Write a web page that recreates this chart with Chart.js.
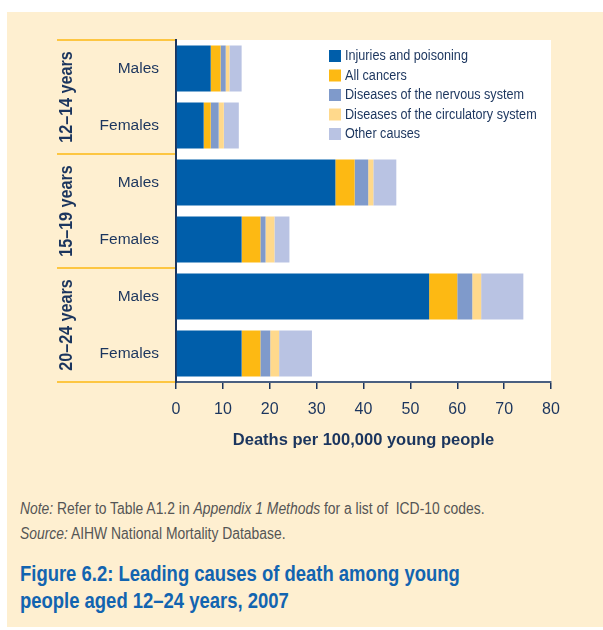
<!DOCTYPE html>
<html>
<head>
<meta charset="utf-8">
<script src="https://cdn.jsdelivr.net/npm/chart.js@4"></script>
<style>
  body { margin: 0; background: #fff; }
  #box { position: absolute; left: 7px; top: 12px; width: 596px; height: 615px; background: #feefd0; }
  #wrap { position: absolute; left: 0; top: 0; }
  .note { position: absolute; left: 20px; font-family: "Liberation Sans", sans-serif; font-size: 16px; color: #555; white-space: nowrap; transform: scaleX(0.868); transform-origin: left center; }
  .title { position: absolute; left: 20px; top: 560px; font-family: "Liberation Sans", sans-serif; font-weight: bold; font-size: 22.5px; line-height: 27px; color: #1264b0; white-space: nowrap; transform: scaleX(0.82); transform-origin: left top; }
</style>
</head>
<body>
<div id="box"></div>
<div id="wrap"><canvas id="myChart" width="603" height="470"></canvas></div>
<div class="note" style="top:500px"><i>Note:</i> Refer to Table A1.2 in <i>Appendix 1 Methods</i> for a list of&nbsp; ICD-10 codes.</div>
<div class="note" style="top:525px"><i>Source:</i> AIHW National Mortality Database.</div>
<div class="title">Figure 6.2: Leading causes of death among young<br>people aged 12–24 years, 2007</div>
<script>
// rows, top to bottom
const categories = ['Males', 'Females', 'Males', 'Females', 'Males', 'Females'];
const ageGroups = ['12–14 years', '15–19 years', '20–24 years'];

// deaths per 100,000 young people
const injuries = [7.4, 5.9, 34.0, 14.0, 54.0, 14.0];
const cancers = [2.1, 1.5, 4.1, 4.0, 6.0, 4.0];
const nervous = [1.1, 1.7, 2.9, 1.1, 3.2, 2.1];
const circulatory = [0.8, 1.1, 1.1, 1.9, 1.9, 1.9];
const otherCauses = [2.6, 3.2, 4.9, 3.2, 9.0, 7.0];

const xTicks = [0, 10, 20, 30, 40, 50, 60, 70, 80];

const navy = '#1b355e';
const font = '"Liberation Sans", sans-serif';

// white plot area + orange separators + rotated age groups + legend
const decorations = {
    id: 'decorations',
    beforeDraw(chart) {
        const a = chart.chartArea;
        const ctx = chart.ctx;
        ctx.save();
        ctx.fillStyle = '#fff';
        ctx.fillRect(a.left, a.top, a.right - a.left, a.bottom - a.top);
        ctx.restore();
    },
    afterDraw(chart) {
        const ctx = chart.ctx;
        const a = chart.chartArea;
        const y = chart.scales.y;
        ctx.save();
        // separators between age groups
        ctx.strokeStyle = '#fdb913';
        ctx.lineWidth = 1.5;
        const lines = [a.top];
        for (let g = 1; g < ageGroups.length; g++) {
            lines.push((y.getPixelForValue(g * 2 - 1) + y.getPixelForValue(g * 2)) / 2);
        }
        lines.push(a.bottom);
        lines.forEach(py => {
            ctx.beginPath();
            ctx.moveTo(57, py);
            ctx.lineTo(a.left - 1, py);
            ctx.stroke();
        });
        // age group labels (narrowed, the original face is condensed)
        ctx.fillStyle = navy;
        ctx.font = 'bold 19px ' + font;
        ctx.textAlign = 'center';
        ctx.textBaseline = 'middle';
        ageGroups.forEach((g, i) => {
            const cy = (y.getPixelForValue(i * 2) + y.getPixelForValue(i * 2 + 1)) / 2;
            ctx.save();
            ctx.translate(67, cy);
            ctx.rotate(-Math.PI / 2);
            ctx.scale(0.85, 1);
            ctx.fillText(g, 0, 0);
            ctx.restore();
        });
        // legend
        ctx.font = '15.5px ' + font;
        ctx.textAlign = 'left';
        chart.data.datasets.forEach((ds, i) => {
            const ly = 56 + i * 19.5;
            ctx.fillStyle = ds.backgroundColor;
            ctx.fillRect(329, ly - 6, 12, 12);
            ctx.fillStyle = navy;
            ctx.save();
            ctx.translate(345, ly);
            ctx.scale(0.815, 1);
            ctx.fillText(ds.label, 0, 0);
            ctx.restore();
        });
        ctx.restore();
    }
};

const ctx = document.getElementById('myChart');

new Chart(ctx, {
    type: 'bar',
    data: {
        labels: categories,
        datasets: [
            { label: 'Injuries and poisoning', data: injuries, backgroundColor: '#005eaa' },
            { label: 'All cancers', data: cancers, backgroundColor: '#fdb913' },
            { label: 'Diseases of the nervous system', data: nervous, backgroundColor: '#7f9acb' },
            { label: 'Diseases of the circulatory system', data: circulatory, backgroundColor: '#ffd98c' },
            { label: 'Other causes', data: otherCauses, backgroundColor: '#b9c3e3' }
        ]
    },
    options: {
        indexAxis: 'y',
        responsive: false,
        animation: false,
        layout: { padding: { left: 0, right: 52, top: 40, bottom: 16 } },
        datasets: { bar: { barPercentage: 0.807, categoryPercentage: 1, borderWidth: 0 } },
        plugins: {
            legend: { display: false },
            tooltip: { enabled: false }
        },
        scales: {
            x: {
                stacked: true,
                min: 0,
                max: 80,
                afterBuildTicks: scale => { scale.ticks = xTicks.map(v => ({ value: v })); },
                afterFit: scale => { scale.height = 72; },
                grid: { drawOnChartArea: false, tickLength: 7, color: navy, lineWidth: 1.5 },
                border: { color: '#4a5f80', width: 2 },
                ticks: { color: navy, padding: 11, font: { family: font, size: 16 } },
                title: {
                    display: true,
                    text: 'Deaths per 100,000 young people',
                    color: navy,
                    padding: { top: 4, bottom: 4 },
                    font: { family: font, size: 16.5, weight: 'bold' }
                }
            },
            y: {
                stacked: true,
                afterFit: scale => { scale.width = 176; },
                grid: { display: false, drawTicks: false },
                border: { color: navy, width: 2 },
                ticks: { color: navy, padding: 17, font: { family: font, size: 15.5 } }
            }
        }
    },
    plugins: [decorations]
});
</script>
</body>
</html>
